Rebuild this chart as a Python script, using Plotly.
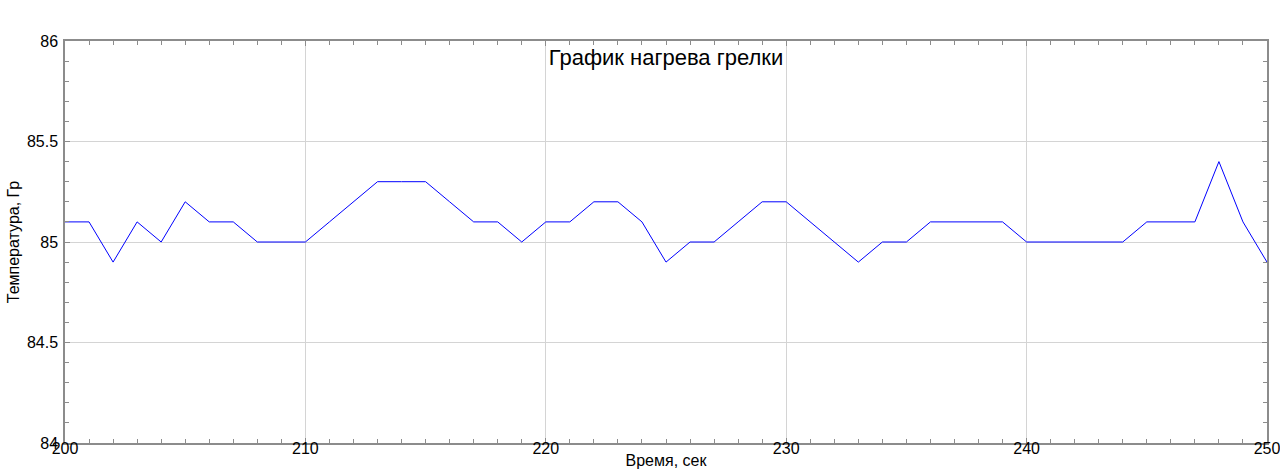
import plotly.graph_objects as go

# --- data ---
time_s = list(range(200, 251))
temp = [
    85.1, 85.1, 84.9, 85.1, 85.0, 85.2, 85.1, 85.1, 85.0, 85.0,
    85.0, 85.1, 85.2, 85.3, 85.3, 85.3, 85.2, 85.1, 85.1, 85.0,
    85.1, 85.1, 85.2, 85.2, 85.1, 84.9, 85.0, 85.0, 85.1, 85.2,
    85.2, 85.1, 85.0, 84.9, 85.0, 85.0, 85.1, 85.1, 85.1, 85.1,
    85.0, 85.0, 85.0, 85.0, 85.0, 85.1, 85.1, 85.1, 85.4, 85.1,
    84.9,
]
x_ticks = [200, 210, 220, 230, 240, 250]
y_ticks = [84, 84.5, 85, 85.5, 86]
y_labels = ["84", "84.5", "85", "85.5", "86"]

title_text = "График нагрева грелки"
x_title = "Время, сек"
y_title = "Температура, Гр"

fig = go.Figure()
fig.add_trace(go.Scatter(
    x=time_s, y=temp, mode="lines",
    line=dict(color="#0000ff", width=1),
    showlegend=False,
))

frame = "#8c8c8c"
axis_common = dict(
    showline=True, linecolor=frame, linewidth=1.5, mirror="allticks",
    ticks="inside", ticklen=5, tickcolor=frame,
    showgrid=True, gridcolor="#d4d4d4", gridwidth=1,
    zeroline=False, automargin=False, ticklabeloverflow="allow",
    tickfont=dict(size=16, color="black"),
    title_font=dict(size=16, color="black"),
)

fig.update_xaxes(
    range=[200, 250], tickvals=x_ticks,
    minor=dict(dtick=1, ticks="inside", ticklen=4, tickcolor=frame, showgrid=False),
    title_text=x_title, title_standoff=0, ticklabelstandoff=-10,
    **axis_common,
)
fig.update_yaxes(
    range=[84, 86], tickvals=y_ticks, ticktext=y_labels,
    minor=dict(dtick=0.1, ticks="inside", ticklen=4, tickcolor=frame, showgrid=False),
    title_text=y_title, title_standoff=3, ticklabelstandoff=2,
    **axis_common,
)

fig.update_layout(
    width=1280, height=469,
    margin=dict(l=65, r=13, t=41, b=26),
    paper_bgcolor="white", plot_bgcolor="white",
    font=dict(family="Liberation Sans, Arial, sans-serif", color="black"),
    title=dict(text=title_text, xref="paper", x=0.5, xanchor="center",
               yref="container", y=0.878, yanchor="middle", automargin=False,
               font=dict(size=22, color="black")),
)

# page body has a default margin; drop it so the figure sits at (0, 0)
fig.write_html(
    "out.html",
    config={"displayModeBar": False},
    post_script="document.body.style.margin='0';",
)
